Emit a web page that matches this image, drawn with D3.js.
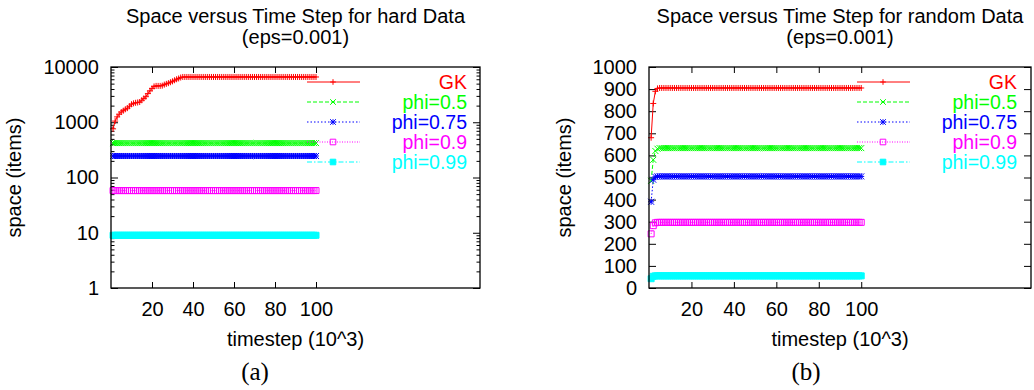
<!DOCTYPE html>
<html><head><meta charset="utf-8">
<script src="https://cdn.jsdelivr.net/npm/d3@7"></script>
<style>body{margin:0;background:#fff} svg{display:block}</style>
</head><body>
<svg id="c" width="1034" height="390"></svg>
<script>
// ---------------- DATA ----------------
const timesteps = [
  1,2,3,4,5,6,7,8,9,10, 11,12,13,14,15,16,17,18,19,20,
  21,22,23,24,25,26,27,28,29,30, 31,32,33,34,35,36,37,38,39,40,
  41,42,43,44,45,46,47,48,49,50, 51,52,53,54,55,56,57,58,59,60,
  61,62,63,64,65,66,67,68,69,70, 71,72,73,74,75,76,77,78,79,80,
  81,82,83,84,85,86,87,88,89,90, 91,92,93,94,95,96,97,98,99,100];
const seriesNames = ["GK","phi=0.5","phi=0.75","phi=0.9","phi=0.99"];
const xTickValues = [20,40,60,80,100];
const hardYTicks = [1,10,100,1000,10000];
const randomYTicks = [0,100,200,300,400,500,600,700,800,900,1000];

// hard data
const hardGK = [
  760,1050,1250,1400,1530,1620,1720,1800,1950,2120,
  2200,2250,2280,2320,2500,2700,2900,3300,3700,4100,
  4450,4550,4550,4550,4600,4800,4950,5100,5300,5500,
  5750,6000,6200,6450,6600,6600,6600,6600,6600,6600,
  6600,6600,6600,6600,6600,6600,6600,6600,6600,6600,
  6600,6600,6600,6600,6600,6600,6600,6600,6600,6600,
  6600,6600,6600,6600,6600,6600,6600,6600,6600,6600,
  6600,6600,6600,6600,6600,6600,6600,6600,6600,6600,
  6600,6600,6600,6600,6600,6600,6600,6600,6600,6600,
  6600,6600,6600,6600,6600,6600,6600,6600,6600,6600];
const hardPhi05 = [
  420,420,420,420,420,420,420,420,420,420, 420,420,420,420,420,420,420,420,420,420,
  420,420,420,420,420,420,420,420,420,420, 420,420,420,420,420,420,420,420,420,420,
  420,420,420,420,420,420,420,420,420,420, 420,420,420,420,420,420,420,420,420,420,
  420,420,420,420,420,420,420,420,420,420, 420,420,420,420,420,420,420,420,420,420,
  420,420,420,420,420,420,420,420,420,420, 420,420,420,420,420,420,420,420,420,420];
const hardPhi075 = [
  245,245,245,245,245,245,245,245,245,245, 245,245,245,245,245,245,245,245,245,245,
  245,245,245,245,245,245,245,245,245,245, 245,245,245,245,245,245,245,245,245,245,
  245,245,245,245,245,245,245,245,245,245, 245,245,245,245,245,245,245,245,245,245,
  245,245,245,245,245,245,245,245,245,245, 245,245,245,245,245,245,245,245,245,245,
  245,245,245,245,245,245,245,245,245,245, 245,245,245,245,245,245,245,245,245,245];
const hardPhi09 = [
  58,58,58,58,58,58,58,58,58,58, 58,58,58,58,58,58,58,58,58,58,
  58,58,58,58,58,58,58,58,58,58, 58,58,58,58,58,58,58,58,58,58,
  58,58,58,58,58,58,58,58,58,58, 58,58,58,58,58,58,58,58,58,58,
  58,58,58,58,58,58,58,58,58,58, 58,58,58,58,58,58,58,58,58,58,
  58,58,58,58,58,58,58,58,58,58, 58,58,58,58,58,58,58,58,58,58];
const hardPhi099 = [
  9,9,9,9,9,9,9,9,9,9, 9,9,9,9,9,9,9,9,9,9,
  9,9,9,9,9,9,9,9,9,9, 9,9,9,9,9,9,9,9,9,9,
  9,9,9,9,9,9,9,9,9,9, 9,9,9,9,9,9,9,9,9,9,
  9,9,9,9,9,9,9,9,9,9, 9,9,9,9,9,9,9,9,9,9,
  9,9,9,9,9,9,9,9,9,9, 9,9,9,9,9,9,9,9,9,9];

// random data
const randomGK = [
  680,835,890,903,905,905,905,905,905,905, 905,905,905,905,905,905,905,905,905,905,
  905,905,905,905,905,905,905,905,905,905, 905,905,905,905,905,905,905,905,905,905,
  905,905,905,905,905,905,905,905,905,905, 905,905,905,905,905,905,905,905,905,905,
  905,905,905,905,905,905,905,905,905,905, 905,905,905,905,905,905,905,905,905,905,
  905,905,905,905,905,905,905,905,905,905, 905,905,905,905,905,905,905,905,905,905];
const randomPhi05 = [
  485,580,620,630,633,633,633,633,633,633, 633,633,633,633,633,633,633,633,633,633,
  633,633,633,633,633,633,633,633,633,633, 633,633,633,633,633,633,633,633,633,633,
  633,633,633,633,633,633,633,633,633,633, 633,633,633,633,633,633,633,633,633,633,
  633,633,633,633,633,633,633,633,633,633, 633,633,633,633,633,633,633,633,633,633,
  633,633,633,633,633,633,633,633,633,633, 633,633,633,633,633,633,633,633,633,633];
const randomPhi075 = [
  390,490,503,505,505,505,505,505,505,505, 505,505,505,505,505,505,505,505,505,505,
  505,505,505,505,505,505,505,505,505,505, 505,505,505,505,505,505,505,505,505,505,
  505,505,505,505,505,505,505,505,505,505, 505,505,505,505,505,505,505,505,505,505,
  505,505,505,505,505,505,505,505,505,505, 505,505,505,505,505,505,505,505,505,505,
  505,505,505,505,505,505,505,505,505,505, 505,505,505,505,505,505,505,505,505,505];
const randomPhi09 = [
  245,282,295,297,297,297,297,297,297,297, 297,297,297,297,297,297,297,297,297,297,
  297,297,297,297,297,297,297,297,297,297, 297,297,297,297,297,297,297,297,297,297,
  297,297,297,297,297,297,297,297,297,297, 297,297,297,297,297,297,297,297,297,297,
  297,297,297,297,297,297,297,297,297,297, 297,297,297,297,297,297,297,297,297,297,
  297,297,297,297,297,297,297,297,297,297, 297,297,297,297,297,297,297,297,297,297];
const randomPhi099 = [
  42,53,55,55,55,55,55,55,55,55, 55,55,55,55,55,55,55,55,55,55,
  55,55,55,55,55,55,55,55,55,55, 55,55,55,55,55,55,55,55,55,55,
  55,55,55,55,55,55,55,55,55,55, 55,55,55,55,55,55,55,55,55,55,
  55,55,55,55,55,55,55,55,55,55, 55,55,55,55,55,55,55,55,55,55,
  55,55,55,55,55,55,55,55,55,55, 55,55,55,55,55,55,55,55,55,55];

// ---------------- STYLE ----------------
const colors = ["#ff0000","#00ff00","#0000ff","#ff00ff","#00ffff"];
const dashes = [null,"4,2","1.5,2","1,1.5","5,2,1.5,2"];
const symbolTypes = ["plus","cross","star","square","fsquare"];
const SANS = "'Liberation Sans', Arial, Helvetica, sans-serif";

function symbolPath(type, r) {
  const plus = `M${-r},0H${r}M0,${-r}V${r}`;
  const cross = `M${-r},${-r}L${r},${r}M${-r},${r}L${r},${-r}`;
  if (type === "plus") return plus;
  if (type === "cross") return cross;
  if (type === "star") return plus + cross;
  return `M${-r},${-r}H${r}V${r}H${-r}Z`;
}

const svg = d3.select("#c");

function panel(cfg) {
  const g = svg.append("g");
  const x = d3.scaleLinear().domain([0,180]).range([cfg.x0, cfg.x1]);
  const y = cfg.log
    ? d3.scaleLog().domain([1,10000]).range([cfg.yBot, cfg.yTop])
    : d3.scaleLinear().domain([0,1000]).range([cfg.yBot, cfg.yTop]);

  function styleAxis(sel) {
    sel.select(".domain").remove();
    sel.attr("font-family", SANS).attr("font-size", 20);
    sel.selectAll("line").attr("stroke", "#000").attr("stroke-width", 1);
    sel.selectAll("text").attr("fill", "#000");
  }
  g.append("g").attr("transform", `translate(0,${cfg.yBot})`)
    .call(d3.axisBottom(x).tickValues(xTickValues).tickSizeInner(-6).tickSizeOuter(0).tickPadding(14))
    .call(styleAxis);
  g.append("g").attr("transform", `translate(0,${cfg.yTop})`)
    .call(d3.axisTop(x).tickValues(xTickValues).tickSizeInner(-6).tickSizeOuter(0).tickFormat(""))
    .call(styleAxis);
  g.append("g").attr("transform", `translate(${cfg.x0},0)`)
    .call(d3.axisLeft(y).tickValues(cfg.yTicks).tickSizeInner(-7).tickSizeOuter(0).tickPadding(12).tickFormat(d3.format("d")))
    .call(styleAxis);
  g.append("g").attr("transform", `translate(${cfg.x1},0)`)
    .call(d3.axisRight(y).tickValues(cfg.yTicks).tickSizeInner(-7).tickSizeOuter(0).tickFormat(""))
    .call(styleAxis);
  if (cfg.log) {
    const minor = [];
    [1,10,100,1000].forEach(dec => [2,3,4,5,6,7,8,9].forEach(m => minor.push(dec*m)));
    g.append("g").attr("transform", `translate(${cfg.x0},0)`)
      .call(d3.axisLeft(y).tickValues(minor).tickSizeInner(-3.5).tickSizeOuter(0).tickFormat(""))
      .call(styleAxis);
    g.append("g").attr("transform", `translate(${cfg.x1},0)`)
      .call(d3.axisRight(y).tickValues(minor).tickSizeInner(-3.5).tickSizeOuter(0).tickFormat(""))
      .call(styleAxis);
  }

  cfg.series.forEach((vals, i) => {
    const pts = timesteps.map((t, k) => ({t, v: vals[k]}));
    g.append("path").datum(pts)
      .attr("fill", "none").attr("stroke", colors[i]).attr("stroke-width", 1)
      .attr("stroke-dasharray", dashes[i])
      .attr("d", d3.line().x(d => x(d.t)).y(d => y(d.v)));
    g.append("g").selectAll("path").data(pts).join("path")
      .attr("transform", d => `translate(${x(d.t)},${y(d.v)})`)
      .attr("d", symbolPath(symbolTypes[i], 3))
      .attr("fill", symbolTypes[i] === "fsquare" ? colors[i] : "none")
      .attr("stroke", colors[i]).attr("stroke-width", 1);
  });

  g.append("rect").attr("x", cfg.x0).attr("y", cfg.yTop)
    .attr("width", cfg.x1 - cfg.x0).attr("height", cfg.yBot - cfg.yTop)
    .attr("fill", "none").attr("stroke", "#000").attr("stroke-width", 1.3);

  seriesNames.forEach((name, i) => {
    const ly = 82 + i * 20;
    g.append("line").attr("x1", cfg.legX0).attr("x2", cfg.legX1).attr("y1", ly).attr("y2", ly)
      .attr("stroke", colors[i]).attr("stroke-width", 1).attr("stroke-dasharray", dashes[i]);
    g.append("path").attr("transform", `translate(${cfg.legM},${ly})`)
      .attr("d", symbolPath(symbolTypes[i], 2.8))
      .attr("fill", symbolTypes[i] === "fsquare" ? colors[i] : "none")
      .attr("stroke", colors[i]).attr("stroke-width", 1);
    g.append("text").attr("x", cfg.legText).attr("y", ly).attr("dy", "0.36em")
      .attr("text-anchor", "end").attr("font-family", SANS).attr("font-size", 19.5)
      .attr("fill", colors[i]).text(name);
  });

  const cx = (cfg.x0 + cfg.x1) / 2;
  g.append("text").attr("x", cx).attr("y", 23).attr("text-anchor", "middle")
    .attr("font-family", SANS).attr("font-size", 20).text(cfg.title);
  g.append("text").attr("x", cx).attr("y", 44).attr("text-anchor", "middle")
    .attr("font-family", SANS).attr("font-size", 20).text("(eps=0.001)");
  g.append("text").attr("x", cx).attr("y", 346).attr("text-anchor", "middle")
    .attr("font-family", SANS).attr("font-size", 20).text("timestep (10^3)");
  g.append("text").attr("transform", `translate(${cfg.yLabX},${(cfg.yTop + cfg.yBot) / 2}) rotate(-90)`)
    .attr("text-anchor", "middle").attr("font-family", SANS).attr("font-size", 20).text("space (items)");
  g.append("text").attr("x", cfg.capX).attr("y", 380).attr("text-anchor", "middle")
    .attr("font-family", "'Liberation Serif', 'Times New Roman', serif").attr("font-size", 25).text(cfg.cap);
}

panel({x0:111, x1:480, yTop:67, yBot:288, log:true, yTicks:hardYTicks,
  series:[hardGK, hardPhi05, hardPhi075, hardPhi09, hardPhi099],
  legX0:307, legX1:360, legM:333, legText:467,
  title:"Space versus Time Step for hard Data", yLabX:21, capX:255, cap:"(a)"});
panel({x0:649, x1:1031, yTop:67, yBot:288, log:false, yTicks:randomYTicks,
  series:[randomGK, randomPhi05, randomPhi075, randomPhi09, randomPhi099],
  legX0:857, legX1:910, legM:883, legText:1017,
  title:"Space versus Time Step for random Data", yLabX:571, capX:806, cap:"(b)"});
</script>
</body></html>
